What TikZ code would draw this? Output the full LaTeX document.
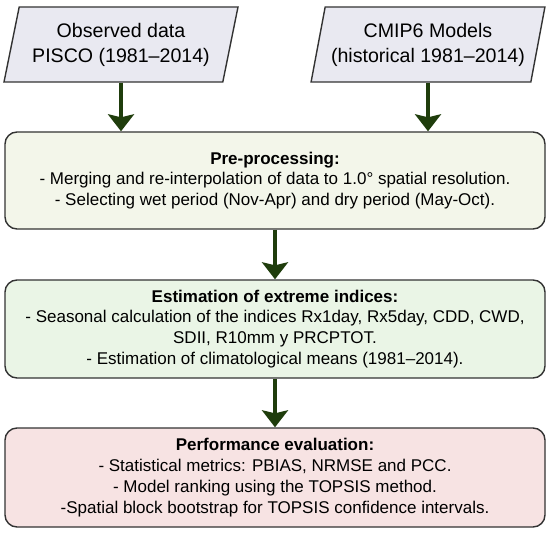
\documentclass[tikz,border=0pt]{standalone}
\usepackage{fontspec}
\setmainfont{Liberation Sans}
\usetikzlibrary{shapes.geometric,arrows.meta}
\definecolor{inputfill}{HTML}{E9E9F1}
\definecolor{prepfill}{HTML}{F3F6EA}
\definecolor{indexfill}{HTML}{EAF5E6}
\definecolor{evalfill}{HTML}{F7E3E3}
\definecolor{arrowgreen}{HTML}{1F3D0C}
\definecolor{edgegray}{HTML}{333333}
\tikzstyle{inputbox}=[
        trapezium,
        trapezium left angle=74,
        trapezium right angle=106,
        trapezium stretches=true,
        draw=edgegray,
        line width=0.7pt,
        fill=inputfill,
        minimum width=117pt,
        minimum height=37.5pt,
        align=center,
        inner sep=1pt,
        font=\fontsize{9.8}{12.5}\selectfont
]
\tikzstyle{stepbox}=[
        draw=edgegray,
        line width=0.7pt,
        rounded corners=6pt,
        minimum width=270pt,
        align=center,
        inner sep=1pt,
        font=\fontsize{8.5}{10.4}\selectfont
]
\tikzstyle{flowarrow}=[
        draw=arrowgreen,
        line width=2pt,
        -{Stealth[length=8.5pt,width=13pt,inset=1.5pt]}
]

\begin{document}
\begin{tikzpicture}
                    \useasboundingbox (0,0) rectangle (275pt,-267pt);

                    \node[inputbox] (obs) at (60.5pt,-22.25pt) {Observed data\\PISCO (1981--2014)};
                    \node[inputbox] (cmip) at (214pt,-22.25pt) {CMIP6 Models\\(historical 1981--2014)};

                    \node[stepbox, fill=prepfill, minimum height=48.5pt] (prep) at (137.5pt,-90.25pt)
                        {\textbf{Pre-processing:}\\
                         - Merging and re-interpolation of data to 1.0° spatial resolution.\\
                         - Selecting wet period (Nov-Apr) and dry period (May-Oct).};

                    \node[stepbox, fill=indexfill, minimum height=49pt] (index) at (137.5pt,-164.5pt)
                        {\textbf{Estimation of extreme indices:}\\
                         - Seasonal calculation of the indices Rx1day, Rx5day, CDD, CWD,\\
                         SDII, R10mm y PRCPTOT.\\
                         - Estimation of climatological means (1981--2014).};

                    \node[stepbox, fill=evalfill, minimum height=49.5pt] (eval) at (137.5pt,-238.75pt)
                        {\textbf{Performance evaluation:}\\
                         - Statistical metrics: PBIAS, NRMSE and PCC.\\
                         - Model ranking using the TOPSIS method.\\
                         -Spatial block bootstrap for TOPSIS confidence intervals.};

                    \draw[flowarrow] (obs.south) -- (obs.south |- prep.north);
                    \draw[flowarrow] (cmip.south) -- (cmip.south |- prep.north);
                    \draw[flowarrow] (prep) -- (index);
                    \draw[flowarrow] (index) -- (eval);
                \end{tikzpicture}
\end{document}
